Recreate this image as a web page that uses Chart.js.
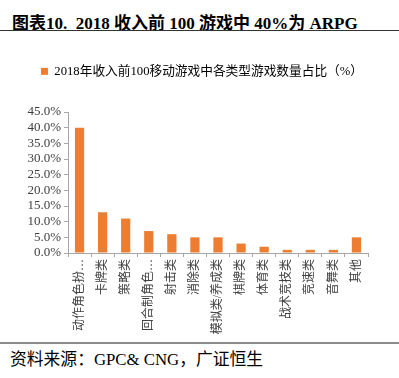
<!DOCTYPE html>
<html>
<head>
<meta charset="utf-8">
<script src="https://cdn.jsdelivr.net/npm/chart.js@4/dist/chart.umd.min.js"></script>
<style>
  html, body { margin: 0; padding: 0; background: #fff; }
  body { width: 399px; height: 378px; position: relative; overflow: hidden;
         font-family: 'Liberation Serif', 'Noto Sans CJK SC', serif; }
  #title { position: absolute; left: 12px; top: 9px; font-size: 17px; font-weight: bold;
           color: #000; white-space: pre; }
  #topline { position: absolute; left: 0; top: 30px; width: 399px; height: 1px; background: #333; }
  #wrap { position: absolute; left: 0; top: 35px; width: 399px; height: 305px; }
  #botline { position: absolute; left: 0; top: 342px; width: 399px; height: 2px; background: #8c8c8c; }
  #source { position: absolute; left: 10px; top: 346px; font-size: 16.8px; color: #000; white-space: pre; }
</style>
</head>
<body>
<div id="title">图表10.  2018 收入前 100 游戏中 40%为 ARPG</div>
<div id="topline"></div>
<div id="wrap"><canvas id="chart"></canvas></div>
<div id="botline"></div>
<div id="source">资料来源：GPC&amp; CNG，广证恒生</div>
<script>
// categories and values
const categories = ['动作角色扮…', '卡牌类', '策略类', '回合制角色…', '射击类', '消除类',
  '模拟类/养成类', '棋牌类', '体育类', '战术竞技类', '竞速类', '音舞类', '其他'];
const shares = [40, 13, 11, 7, 6, 5, 5, 3, 2, 1, 1, 1, 5];
const seriesName = '2018年收入前100移动游戏中各类型游戏数量占比（%）';
const yTicks = [0, 5, 10, 15, 20, 25, 30, 35, 40, 45];

const fontFamily = "'Liberation Serif', 'Noto Sans CJK SC', serif";
const axisColor = '#a6a6a6';
const textColor = '#404040';

// keep legend block a fixed height so the plot starts where the original does
const legendHeight = {
  id: 'legendHeight',
  beforeInit(chart) {
    const fit = chart.legend.fit;
    chart.legend.fit = function () {
      fit.bind(chart.legend)();
      this.height = 57;
    };
  }
};

const ctx = document.getElementById('chart').getContext('2d');
new Chart(ctx, {
  type: 'bar',
  data: {
    labels: categories,
    datasets: [{
      label: seriesName,
      data: shares,
      backgroundColor: '#ED7D31',
      barPercentage: 0.4,
      categoryPercentage: 1.0
    }]
  },
  options: {
    responsive: true,
    maintainAspectRatio: false,
    animation: false,
    layout: { padding: { top: 20, right: 0, left: 5, bottom: 0 } },
    plugins: {
      legend: {
        position: 'top',
        labels: {
          boxWidth: 7,
          boxHeight: 7,
          padding: 10,
          color: '#000',
          font: { family: fontFamily, size: 12.7 }
        }
      },
      tooltip: { enabled: false }
    },
    scales: {
      x: {
        grid: { display: true, drawOnChartArea: false, drawTicks: true, tickLength: 4,
                color: axisColor, offset: true },
        border: { color: axisColor },
        ticks: {
          autoSkip: false,
          maxRotation: 90,
          minRotation: 90,
          padding: 2,
          color: textColor,
          font: { family: fontFamily, size: 12 }
        },
        afterFit(scale) { scale.height = 87; }
      },
      y: {
        min: 0,
        max: 45,
        afterBuildTicks(scale) { scale.ticks = yTicks.map(v => ({ value: v })); },
        grid: { display: true, drawOnChartArea: false, drawTicks: true, tickLength: 4,
                color: axisColor },
        border: { color: axisColor },
        ticks: {
          autoSkip: false,
          padding: 3,
          color: textColor,
          font: { family: fontFamily, size: 13 },
          callback: v => v.toFixed(1) + '%'
        },
        afterFit(scale) { scale.width = 63; }
      },
      // empty right-hand axis, only reserves the blank margin right of the plot
      yRight: {
        position: 'right',
        min: 0,
        max: 45,
        grid: { display: false },
        border: { display: false },
        ticks: { display: false },
        afterFit(scale) { scale.width = 31; }
      }
    }
  },
  plugins: [legendHeight]
});
</script>
</body>
</html>
